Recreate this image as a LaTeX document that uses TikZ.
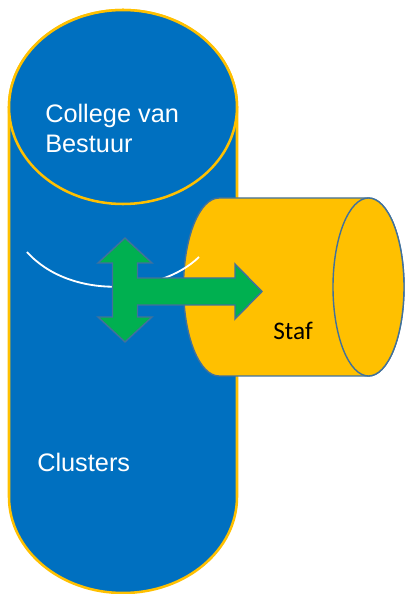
\documentclass[tikz,border=0pt]{standalone}
\usepackage{fontspec}
\setmainfont{Liberation Sans}
\newfontfamily\calibri{Carlito}
\definecolor{blauw}{HTML}{0070C0}
\definecolor{geel}{HTML}{FFC000}
\definecolor{groen}{HTML}{00B050}
\definecolor{rand}{HTML}{41719C}
\begin{document}
\begin{tikzpicture}[
        x=0.025cm, y=0.025cm,
        every node/.style={inner sep=0pt},
        cilinder/.style={fill=blauw, draw=geel, line width=1.8pt},
        vat/.style={fill=geel, draw=rand, line width=1pt},
        pijl/.style={fill=groen, draw=rand, line width=1pt, line join=miter},
        tekst/.style={text=white, font=\fontsize{18}{22}\selectfont, align=left}
    ]
    \useasboundingbox (0,0) rectangle (404,594);

    % Cilinder
    \draw[cilinder] (9,487) -- (9,97) arc (180:360:114 and 96) -- (237,487) arc (0:180:114 and 97) -- cycle;
    \draw[cilinder] (123,487) ellipse (114 and 97);

    % Staf
    \draw[vat] (368.5,396) -- (219,396) arc (90:270:35.5 and 89) -- (368.5,218) arc (270:450:35.5 and 89) -- cycle;
    \draw[vat] (368.5,307) ellipse (35.5 and 89);

    % Boog
    \draw[white, line width=1.3pt] (27,342) .. controls (70,294) and (160,299) .. (199,337);

    % Pijl
    \draw[pijl] (125,356) -- (152,331) -- (137.5,331) -- (137.5,316) -- (235,316) -- (235,330)
        -- (262,302.5) -- (235,275) -- (235,289) -- (137.5,289) -- (137.5,277) -- (152,277)
        -- (125,252) -- (98,277) -- (112.5,277) -- (112.5,331) -- (98,331) -- cycle;

    % Teksten
    \node[tekst, anchor=base west] (bestuur) at (45,441) {College van\\Bestuur};
    \node[tekst, anchor=base west] (clusters) at (37,122) {Clusters};
    \node[font=\calibri\fontsize{18}{22}\selectfont, anchor=base west] (staf) at (273,254) {Staf};
\end{tikzpicture}
\end{document}
